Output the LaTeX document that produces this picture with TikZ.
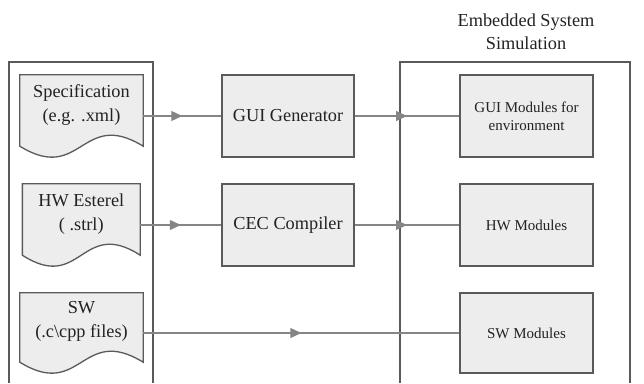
\documentclass[tikz,border=0pt]{standalone}
\usepackage{fontspec}
\setmainfont{Liberation Serif}
\newfontfamily\diagfont{Liberation Serif}
\usetikzlibrary{arrows.meta,decorations.markings}
\definecolor{boxfill}{HTML}{EDEDED}
\definecolor{boxline}{HTML}{5A5A5A}
\definecolor{conline}{HTML}{858585}
\definecolor{textcol}{HTML}{222222}
\newcommand{\docoutline}[1]{%
  \draw[docline] (#1.north west) -- ([yshift=11pt]#1.south west)
    .. controls ([yshift=-27pt]#1.south) and ([yshift=49pt]#1.south) ..
    ([yshift=11pt]#1.south east) -- (#1.north east) -- cycle;}
\begin{document}
\begin{tikzpicture}[x=1pt,y=-1pt,
  every node/.style={text=textcol},
  procbox/.style={draw=boxline,fill=boxfill,line width=1.3pt,minimum width=132pt,
    minimum height=82pt,inner sep=0pt,font=\diagfont\fontsize{18.3}{23}\selectfont,align=center},
  modbox/.style={draw=boxline,fill=boxfill,line width=1.3pt,minimum width=133pt,
    minimum height=82pt,inner sep=0pt,font=\diagfont\fontsize{15}{18}\selectfont,align=center},
  docarea/.style={minimum width=123pt,minimum height=82pt,inner sep=0pt},
  docline/.style={draw=boxline,fill=boxfill,line width=1.3pt},
  doctext/.style={font=\diagfont\fontsize{18.3}{24}\selectfont,align=center,inner sep=0pt},
  flow/.style={draw=conline,line width=1.2pt,postaction={decorate},
    decoration={markings,mark=at position 0.5 with {\arrow[conline]{Triangle[length=11pt,width=10pt]}}}},
  container/.style={draw=boxline,line width=1.3pt}
]
\useasboundingbox (0,0) rectangle (644,383);

% left container (open at the bottom)
\coordinate (lbl) at (9,383);
\coordinate (ltl) at (9,62);
\coordinate (ltr) at (153,62);
\coordinate (lbr) at (153,383);
\draw[container] (lbl) -- (ltl) -- (ltr) -- (lbr);

% right container
\coordinate (rbl) at (400,383);
\coordinate (rtl) at (400,62);
\coordinate (rtr) at (630,62);
\coordinate (rbr) at (630,383);
\draw[container] (rbl) -- (rtl) -- (rtr) -- (rbr);

\node[font=\diagfont\fontsize{18.3}{23}\selectfont,align=center,inner sep=0pt] (title) at (526,31.5)
  {Embedded System\\Simulation};

% documents
\node[docarea] (spec) at (81.5,116) {};
\node[docarea,minimum width=117.5pt] (hwe) at (81.3,225) {};
\node[docarea,minimum height=80pt] (sw) at (81.5,333) {};
\docoutline{spec}
\docoutline{hwe}
\docoutline{sw}
\node[doctext] (spectext) at (81.5,105) {Specification\\(e.g. .xml)};
\node[doctext] (hwetext) at (81.3,214.5) {HW Esterel\\( .strl)};
\node[doctext] (swtext) at (81.5,321.5) {SW\\(.c\textbackslash cpp files)};

% tools
\node[procbox] (gen) at (288,116) {GUI Generator};
\node[procbox] (cec) at (288,225) {CEC Compiler};

% modules
\node[modbox] (guimod) at (526.5,116) {GUI Modules for\\environment};
\node[modbox] (hwmod) at (526.5,225) {HW Modules};
\node[modbox,minimum height=80pt] (swmod) at (526.5,333) {SW Modules};

% connectors
\draw[flow] (spec.east) -- (gen.west);
\draw[flow] (hwe.east) -- (cec.west);
\draw[flow] (gen.east) -- (guimod.west);
\draw[flow] (cec.east) -- (hwmod.west);
\draw[flow] (sw.east) -- (swmod.west);
\end{tikzpicture}
\end{document}
